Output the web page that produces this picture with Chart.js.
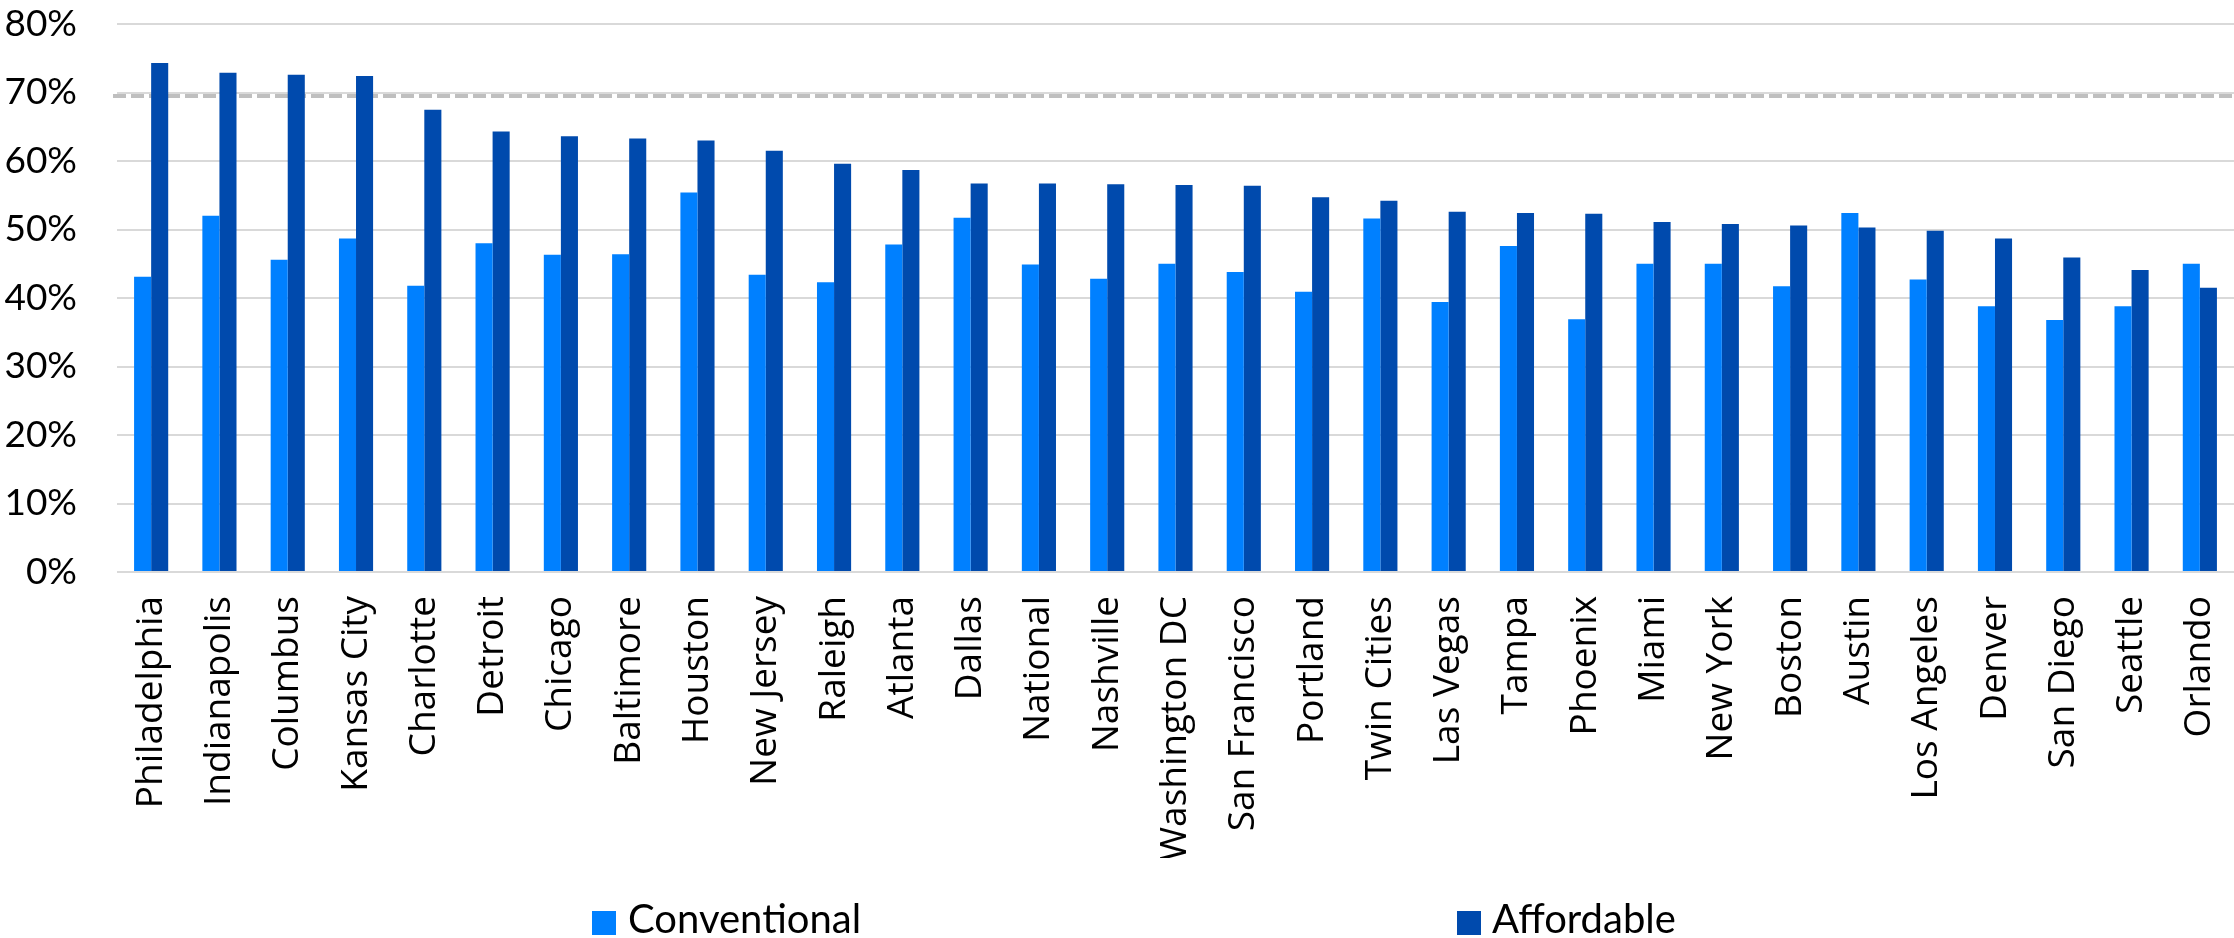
<!DOCTYPE html>
<html>
<head>
<meta charset="utf-8">
<script src="https://cdn.jsdelivr.net/npm/chart.js@4.4.1/dist/chart.umd.min.js"></script>
<style>
  html, body { margin: 0; padding: 0; background: #ffffff; }
  #wrap { width: 2234px; height: 938px; position: relative; }
</style>
</head>
<body>
<div id="wrap"><canvas id="c" width="2234" height="938"></canvas></div>
<script>
// ---- data ----
const categories = [
  'Philadelphia', 'Indianapolis', 'Columbus', 'Kansas City', 'Charlotte', 'Detroit',
  'Chicago', 'Baltimore', 'Houston', 'New Jersey', 'Raleigh', 'Atlanta', 'Dallas',
  'National', 'Nashville', 'Washington DC', 'San Francisco', 'Portland', 'Twin Cities',
  'Las Vegas', 'Tampa', 'Phoenix', 'Miami', 'New York', 'Boston', 'Austin',
  'Los Angeles', 'Denver', 'San Diego', 'Seattle', 'Orlando'
];
const conventional = [
  43.1, 52.0, 45.6, 48.7, 41.8, 48.0,
  46.3, 46.4, 55.4, 43.4, 42.3, 47.8, 51.7,
  44.9, 42.8, 45.0, 43.8, 40.9, 51.6,
  39.4, 47.6, 36.9, 45.0, 45.0, 41.7, 52.4,
  42.7, 38.8, 36.8, 38.8, 45.0
];
const affordable = [
  74.3, 72.9, 72.6, 72.4, 67.5, 64.3,
  63.6, 63.3, 63.0, 61.5, 59.6, 58.7, 56.7,
  56.7, 56.6, 56.5, 56.4, 54.7, 54.2,
  52.6, 52.4, 52.3, 51.1, 50.8, 50.6, 50.3,
  49.8, 48.7, 45.9, 44.1, 41.5
];
const seriesNames = ['Conventional', 'Affordable'];
const yTickValues = [0, 10, 20, 30, 40, 50, 60, 70, 80];
const referenceValue = 69.5;

// ---- styles ----
const seriesColors = ['#0080FF', '#004AAD'];

// dashed reference line drawn behind the bars, placed through the y scale
const refLinePlugin = {
  id: 'refLine',
  beforeDatasetsDraw(chart) {
    const { ctx, chartArea, scales } = chart;
    const y = Math.round(scales.y.getPixelForValue(referenceValue));
    ctx.save();
    ctx.strokeStyle = '#BFBFBF';
    ctx.lineWidth = 4;
    ctx.setLineDash([13, 5]);
    ctx.beginPath();
    ctx.moveTo(chartArea.left - 4, y);
    ctx.lineTo(chartArea.right, y);
    ctx.stroke();
    ctx.restore();
  }
};

// legend spread across the bottom like the original
const spreadLegendPlugin = {
  id: 'spreadLegend',
  afterDraw(chart) {
    const { ctx } = chart;
    const items = [ { x: 592, gap: 12 }, { x: 1457, gap: 11 } ];
    ctx.save();
    ctx.font = '40px Lato';
    ctx.textBaseline = 'alphabetic';
    ctx.textAlign = 'left';
    chart.data.datasets.forEach((ds, i) => {
      const it = items[i];
      ctx.fillStyle = ds.backgroundColor;
      ctx.fillRect(it.x, 911, 24, 24);
      ctx.fillStyle = '#000000';
      ctx.fillText(ds.label, it.x + 24 + it.gap, 933);
    });
    ctx.restore();
  }
};

new Chart(document.getElementById('c'), {
  type: 'bar',
  data: {
    labels: categories,
    datasets: [
      { label: seriesNames[0], data: conventional, backgroundColor: seriesColors[0] },
      { label: seriesNames[1], data: affordable, backgroundColor: seriesColors[1] }
    ]
  },
  options: {
    responsive: false,
    animation: false,
    devicePixelRatio: 1,
    layout: { padding: { left: 4, right: 0, top: 24, bottom: 80 } },
    datasets: { bar: { categoryPercentage: 0.5, barPercentage: 1.0, borderWidth: 0 } },
    plugins: {
      legend: { display: false },
      tooltip: { enabled: false },
      title: { display: false }
    },
    scales: {
      x: {
        grid: { display: false, drawTicks: false },
        border: { display: false },
        afterFit(scale) {
          scale.height = 286;
          scale.paddingLeft = 0;
          scale.paddingRight = 0;
        },
        ticks: {
          autoSkip: false,
          minRotation: 90,
          maxRotation: 90,
          padding: 24,
          color: '#000000',
          font: { family: 'Open Sans', size: 37 }
        }
      },
      y: {
        min: 0,
        max: 80,
        afterBuildTicks(scale) { scale.ticks = yTickValues.map(v => ({ value: v })); },
        afterFit(scale) {
          scale.width = 113;
          scale.paddingTop = 22;
          scale.paddingBottom = 22;
        },
        grid: { color: '#D9D9D9', lineWidth: 2, drawTicks: false },
        border: { display: false },
        ticks: {
          padding: 40,
          color: '#000000',
          font: { family: 'Lato', size: 37 },
          callback: (v) => v + '%'
        }
      }
    }
  },
  plugins: [refLinePlugin, spreadLegendPlugin]
});
</script>
</body>
</html>
